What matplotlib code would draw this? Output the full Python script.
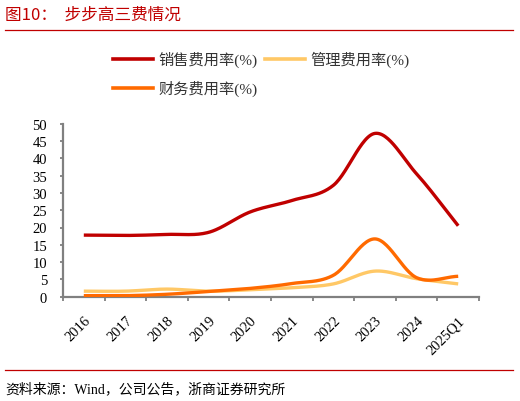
import numpy as np
import matplotlib
matplotlib.use("Agg")
import matplotlib.pyplot as plt
from matplotlib.lines import Line2D

plt.rcParams['font.family'] = ['Liberation Serif', 'Noto Sans CJK SC', 'DejaVu Sans']

categories = ['2016', '2017', '2018', '2019', '2020', '2021', '2022', '2023', '2024', '2025Q1']
sales = [17.8, 17.7, 18.0, 18.6, 24.5, 27.8, 32.2, 47.2, 35.5, 20.5]
admin = [1.6, 1.6, 2.2, 1.6, 2.0, 2.6, 3.7, 7.4, 5.2, 3.7]
finance = [0.3, 0.3, 0.7, 1.5, 2.4, 3.8, 6.2, 16.7, 5.5, 5.9]
series_names = ['销售费用率(%)', '管理费用率(%)', '财务费用率(%)']
colors = ['#C00000', '#FFC866', '#FF6A00']
yticks = [0, 5, 10, 15, 20, 25, 30, 35, 40, 45, 50]


def smooth(x, y, n=30):
    # Excel-style smoothed line (Catmull-Rom through the data points)
    x = np.asarray(x, float); y = np.asarray(y, float)
    px = np.concatenate([[2 * x[0] - x[1]], x, [2 * x[-1] - x[-2]]])
    py = np.concatenate([[2 * y[0] - y[1]], y, [2 * y[-1] - y[-2]]])
    xs, ys = [], []
    t = np.linspace(0, 1, n)
    for i in range(1, len(px) - 2):
        p0, p1, p2, p3 = [np.array([px[j], py[j]]) for j in range(i - 1, i + 3)]
        c1 = p1 + (p2 - p0) / 6
        c2 = p2 - (p3 - p1) / 6
        pts = ((1 - t)[:, None] ** 3 * p1 + 3 * ((1 - t) ** 2 * t)[:, None] * c1
               + 3 * ((1 - t) * t ** 2)[:, None] * c2 + (t ** 3)[:, None] * p2)
        xs.extend(pts[:, 0]); ys.extend(pts[:, 1])
    return np.array(xs), np.array(ys)


fig = plt.figure(figsize=(5.2, 4.02), dpi=100)
W, H = 520, 402
ax = fig.add_axes([63 / W, 1 - 297.7 / H, (479 - 63) / W, (297.7 - 124.7) / H])

x = np.arange(len(categories))
for vals, c in [(sales, colors[0]), (admin, colors[1]), (finance, colors[2])]:
    sx, sy = smooth(x, vals)
    ax.plot(sx, sy, color=c, lw=2.4, solid_capstyle='butt', zorder=3)

ax.set_xlim(-0.5, len(categories) - 0.5)
ax.set_ylim(0, 50)
ax.set_yticks(yticks)
ax.set_yticklabels([str(v) for v in yticks], fontsize=10.5)
ax.set_xticks(np.arange(len(categories) + 1) - 0.5)
ax.set_xticklabels([])
ax.set_xticks(x, minor=True)
ax.set_xticklabels(categories, minor=True, rotation=45, ha='right', va='top',
                   rotation_mode='anchor', fontsize=10.5)
ax.tick_params(axis='x', which='minor', length=0, pad=12)
ax.tick_params(axis='x', which='major', length=3, width=1.3, color='#808080', direction='out')
ax.tick_params(axis='y', length=2.5, width=1.3, color='#808080', direction='out', pad=9)
for s in ['top', 'right']:
    ax.spines[s].set_visible(False)
for s in ['left', 'bottom']:
    ax.spines[s].set_color('#808080')
    ax.spines[s].set_linewidth(1.6)

# Title and rules
fig.text(5 / W, 1 - 15 / H, '图10：  步步高三费情况', color='#C00000', fontsize=12,
         va='center', ha='left', family=['Noto Sans CJK SC'])
fig.add_artist(Line2D([5 / W, 513 / W], [1 - 31 / H, 1 - 31 / H], color='#C00000', lw=0.9))
fig.add_artist(Line2D([5 / W, 513 / W], [1 - 371 / H, 1 - 371 / H], color='#C00000', lw=0.9))
fig.text(5 / W, 1 - 389 / H, '资料来源：Wind，公司公告，浙商证券研究所', fontsize=10,
         va='center', ha='left')

# Legend (manual)
leg = [(113, 60, 0), (265, 60, 1), (113, 89, 2)]
for lx, ly, i in leg:
    fig.add_artist(Line2D([lx / W, (lx + 40) / W], [1 - ly / H, 1 - ly / H],
                          color=colors[i], lw=2.6))
    fig.text((lx + 45) / W, 1 - ly / H, series_names[i], fontsize=11,
             va='center', ha='left', color='#333333')

fig.savefig('out.png', dpi=100)
